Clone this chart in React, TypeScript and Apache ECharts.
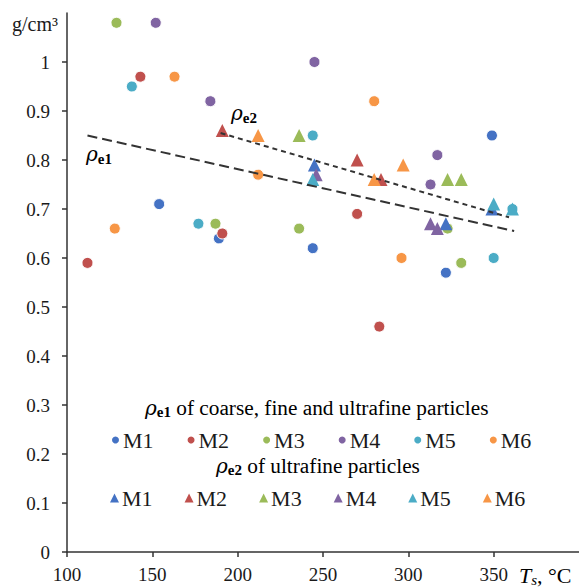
import React, { useEffect, useRef } from "react";
import * as echarts from "echarts";

const seriesNames = ["M1", "M2", "M3", "M4", "M5", "M6"];
const colors = ["#4472C4", "#C0504D", "#9BBB59", "#8064A2", "#4BACC6", "#F79646"];

// rho_e1 points (circles): [Ts, density]
const circM1 = [[154, 0.71], [189, 0.64], [244, 0.62], [349, 0.85], [322, 0.57]];
const circM2 = [[112, 0.59], [143, 0.97], [191, 0.65], [270, 0.69], [283, 0.46]];
const circM3 = [[129, 1.08], [187, 0.67], [236, 0.66], [323, 0.66], [331, 0.59]];
const circM4 = [[152, 1.08], [184, 0.92], [245, 1.0], [317, 0.81], [313, 0.75]];
const circM5 = [[138, 0.95], [177, 0.67], [244, 0.85], [350, 0.6], [361, 0.7]];
const circM6 = [[128, 0.66], [163, 0.97], [212, 0.77], [280, 0.92], [296, 0.6]];

// rho_e2 points (triangles)
const triM1 = [[245, 0.79], [322, 0.67], [349, 0.7]];
const triM2 = [[191, 0.86], [270, 0.8], [284, 0.76]];
const triM3 = [[236, 0.85], [323, 0.76], [331, 0.76]];
const triM4 = [[246, 0.77], [313, 0.67], [317, 0.66]];
const triM5 = [[244, 0.76], [350, 0.71], [361, 0.7]];
const triM6 = [[212, 0.85], [297, 0.79], [280, 0.76]];

// trend lines
const trendE1 = [[112, 0.85], [362, 0.655]];
const trendE2 = [[190, 0.855], [359, 0.683]];

const xTicks = [100, 150, 200, 250, 300, 350];
const yTicks = [0, 0.1, 0.2, 0.3, 0.4, 0.5, 0.6, 0.7, 0.8, 0.9, 1];

const circles = [circM1, circM2, circM3, circM4, circM5, circM6];
const triangles = [triM1, triM2, triM3, triM4, triM5, triM6];

const FONT = "'Liberation Serif', 'Times New Roman', serif";
const RHO_FONT = "'DejaVu Serif', serif";
const TXT = "#1a1a1a";
const TRI_PREFIX = "ρe2 ";

const rhoRich = {
  r: { fontFamily: RHO_FONT, fontStyle: "italic", fontSize: 20, color: TXT },
  s: { fontFamily: FONT, fontWeight: "bold", fontSize: 15, color: TXT, padding: [9, 0, 0, 0] },
  n: { fontFamily: FONT, fontSize: 21.3, color: TXT },
};

export default function App() {
  const ref = useRef<HTMLDivElement>(null);
  useEffect(() => {
    if (!ref.current) return;
    const chart = echarts.init(ref.current, null, { renderer: "svg" });
    const axisColor = "#333";
    const series: any[] = [];
    circles.forEach((d, i) => {
      series.push({
        type: "scatter",
        name: seriesNames[i],
        data: d,
        symbol: "circle",
        symbolSize: 11,
        itemStyle: { color: colors[i], borderColor: "#fff", borderWidth: 1, opacity: 1 },
        z: 2,
      });
    });
    triangles.forEach((d, i) => {
      series.push({
        type: "scatter",
        name: TRI_PREFIX + seriesNames[i],
        data: d,
        symbol: "triangle",
        symbolSize: 13,
        itemStyle: { color: colors[i], opacity: 1 },
        z: 3,
      });
    });
    series.push({
      type: "line",
      data: trendE1,
      symbol: "none",
      lineStyle: { color: "#333", width: 2, type: [10, 5] },
      z: 4,
      silent: true,
    });
    series.push({
      type: "line",
      data: trendE2,
      symbol: "none",
      lineStyle: { color: "#333", width: 2, type: [5, 4] },
      z: 4,
      silent: true,
    });

    const legendCommon = {
      orient: "horizontal",
      itemWidth: 9,
      itemHeight: 9,
      itemGap: 32,
      padding: 0,
      selectedMode: false,
      textStyle: { fontFamily: FONT, fontSize: 22, color: TXT, padding: [0, 0, 0, -2] },
    };

    const option: any = {
      animation: false,
      textStyle: { fontFamily: FONT },
      grid: { left: 67, top: 13, right: -3, bottom: 35 },
      xAxis: {
        type: "value",
        min: 100,
        max: 400,
        interval: 50,
        axisLine: { show: true, lineStyle: { color: axisColor, width: 1.5 } },
        axisTick: { show: true, inside: false, length: 5, customValues: xTicks, lineStyle: { color: axisColor, width: 1.5 } },
        axisLabel: {
          customValues: xTicks,
          margin: 13,
          fontFamily: FONT,
          fontSize: 19,
          color: TXT,
        },
        splitLine: { show: false },
      },
      yAxis: {
        type: "value",
        min: 0,
        max: 1.1,
        interval: 0.1,
        axisLine: { show: true, lineStyle: { color: axisColor, width: 1.5 } },
        axisTick: { show: true, inside: false, length: 5, customValues: yTicks, lineStyle: { color: axisColor, width: 1.5 } },
        axisLabel: {
          customValues: yTicks,
          margin: 17,
          fontFamily: FONT,
          fontSize: 19,
          color: TXT,
          formatter: (v: number) => String(Math.round(v * 10) / 10),
        },
        splitLine: { show: false },
      },
      legend: [
        {
          ...legendCommon,
          left: 110,
          top: 429,
          data: seriesNames.map((n) => ({ name: n, icon: "circle" })),
        },
        {
          ...legendCommon,
          left: 110,
          top: 487,
          data: seriesNames.map((n) => ({ name: TRI_PREFIX + n, icon: "triangle" })),
          formatter: (name: string) => name.replace(TRI_PREFIX, ""),
        },
      ],
      graphic: [
        {
          type: "text",
          left: 12,
          top: 14,
          style: { text: "g/cm³", fontFamily: FONT, fontSize: 20, fill: TXT },
        },
        {
          type: "text",
          left: 519,
          top: 564,
          style: {
            text: "{t|T}{s|s}{n|, °C}",
            rich: {
              t: { fontFamily: FONT, fontStyle: "italic", fontSize: 22, color: TXT },
              s: { fontFamily: FONT, fontStyle: "italic", fontSize: 15, color: TXT, padding: [9, 0, 0, 0] },
              n: { fontFamily: FONT, fontSize: 22, color: TXT },
            },
          },
        },
        {
          type: "text",
          left: 86,
          top: 144,
          style: { text: "{r|ρ}{s|e1}", rich: rhoRich },
        },
        {
          type: "text",
          left: 231,
          top: 103,
          style: { text: "{r|ρ}{s|e2}", rich: rhoRich },
        },
        {
          type: "text",
          left: 145,
          top: 397,
          style: { text: "{r|ρ}{s|e1}{n| of coarse, fine and ultrafine particles}", rich: rhoRich },
        },
        {
          type: "text",
          left: 216,
          top: 455,
          style: { text: "{r|ρ}{s|e2}{n| of ultrafine particles}", rich: rhoRich },
        },
      ],
      series,
    };
    chart.setOption(option);
    return () => chart.dispose();
  }, []);
  return (
    <div
      ref={ref}
      style={{ position: "fixed", left: 0, top: 0, width: 579, height: 587, background: "#fff" }}
    />
  );
}
